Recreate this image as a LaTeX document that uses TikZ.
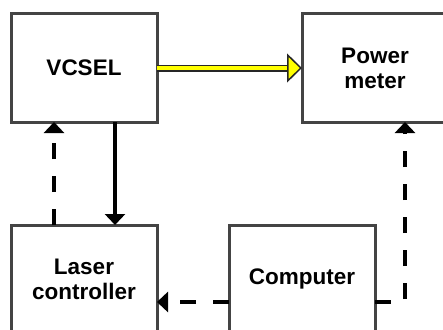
\documentclass[tikz,border=0pt]{standalone}
\usepackage{fontspec}
\setmainfont{Liberation Sans}
\usetikzlibrary{positioning, arrows.meta}
\definecolor{boxgray}{HTML}{444444}
\definecolor{beamyellow}{HTML}{FFFF00}

\begin{document}
\begin{tikzpicture}[x=1pt, y=-1pt,
    unit/.style={draw=boxgray, line width=3pt, minimum width=146pt, minimum height=108pt,
      inner sep=0pt, outer sep=0pt, align=center, font=\fontsize{22.5}{25}\selectfont\bfseries},
    signal/.style={line width=4.5pt, -{Triangle[length=11pt, width=20pt]}},
    ctrl/.style={signal, dash pattern=on 16pt off 17pt},
    beam/.style={line width=3.5pt, beamyellow,
      -{Triangle[length=15pt, width=29pt, fill=beamyellow, color=black!85, line width=1.5pt]},
      preaction={draw, black!85, line width=7pt, shorten >=10pt, -}}]
        \clip (0,0) rectangle (443,329);
        \node[unit] (vcsel) at (84,68) {VCSEL};
        \node[unit, right=145pt of vcsel] (power) {Power\\meter};
        \node[unit, below=103pt of vcsel] (laser) {Laser\\controller};
        \node[unit, right=72pt of laser] (comp) {Computer};
        \draw[beam] (vcsel) -- (power);
        \draw[signal] ([xshift=104pt]vcsel.south west) -- ([xshift=104pt]laser.north west);
        \draw[ctrl] ([xshift=43pt]laser.north west) -- ([xshift=43pt]vcsel.south west);
        \draw[ctrl] ([yshift=-23pt]comp.west) -- ([yshift=-23pt]laser.east);
        \draw[ctrl] ([yshift=-23pt]comp.east) -| ([xshift=103pt]power.south west);
      \end{tikzpicture}
\end{document}
